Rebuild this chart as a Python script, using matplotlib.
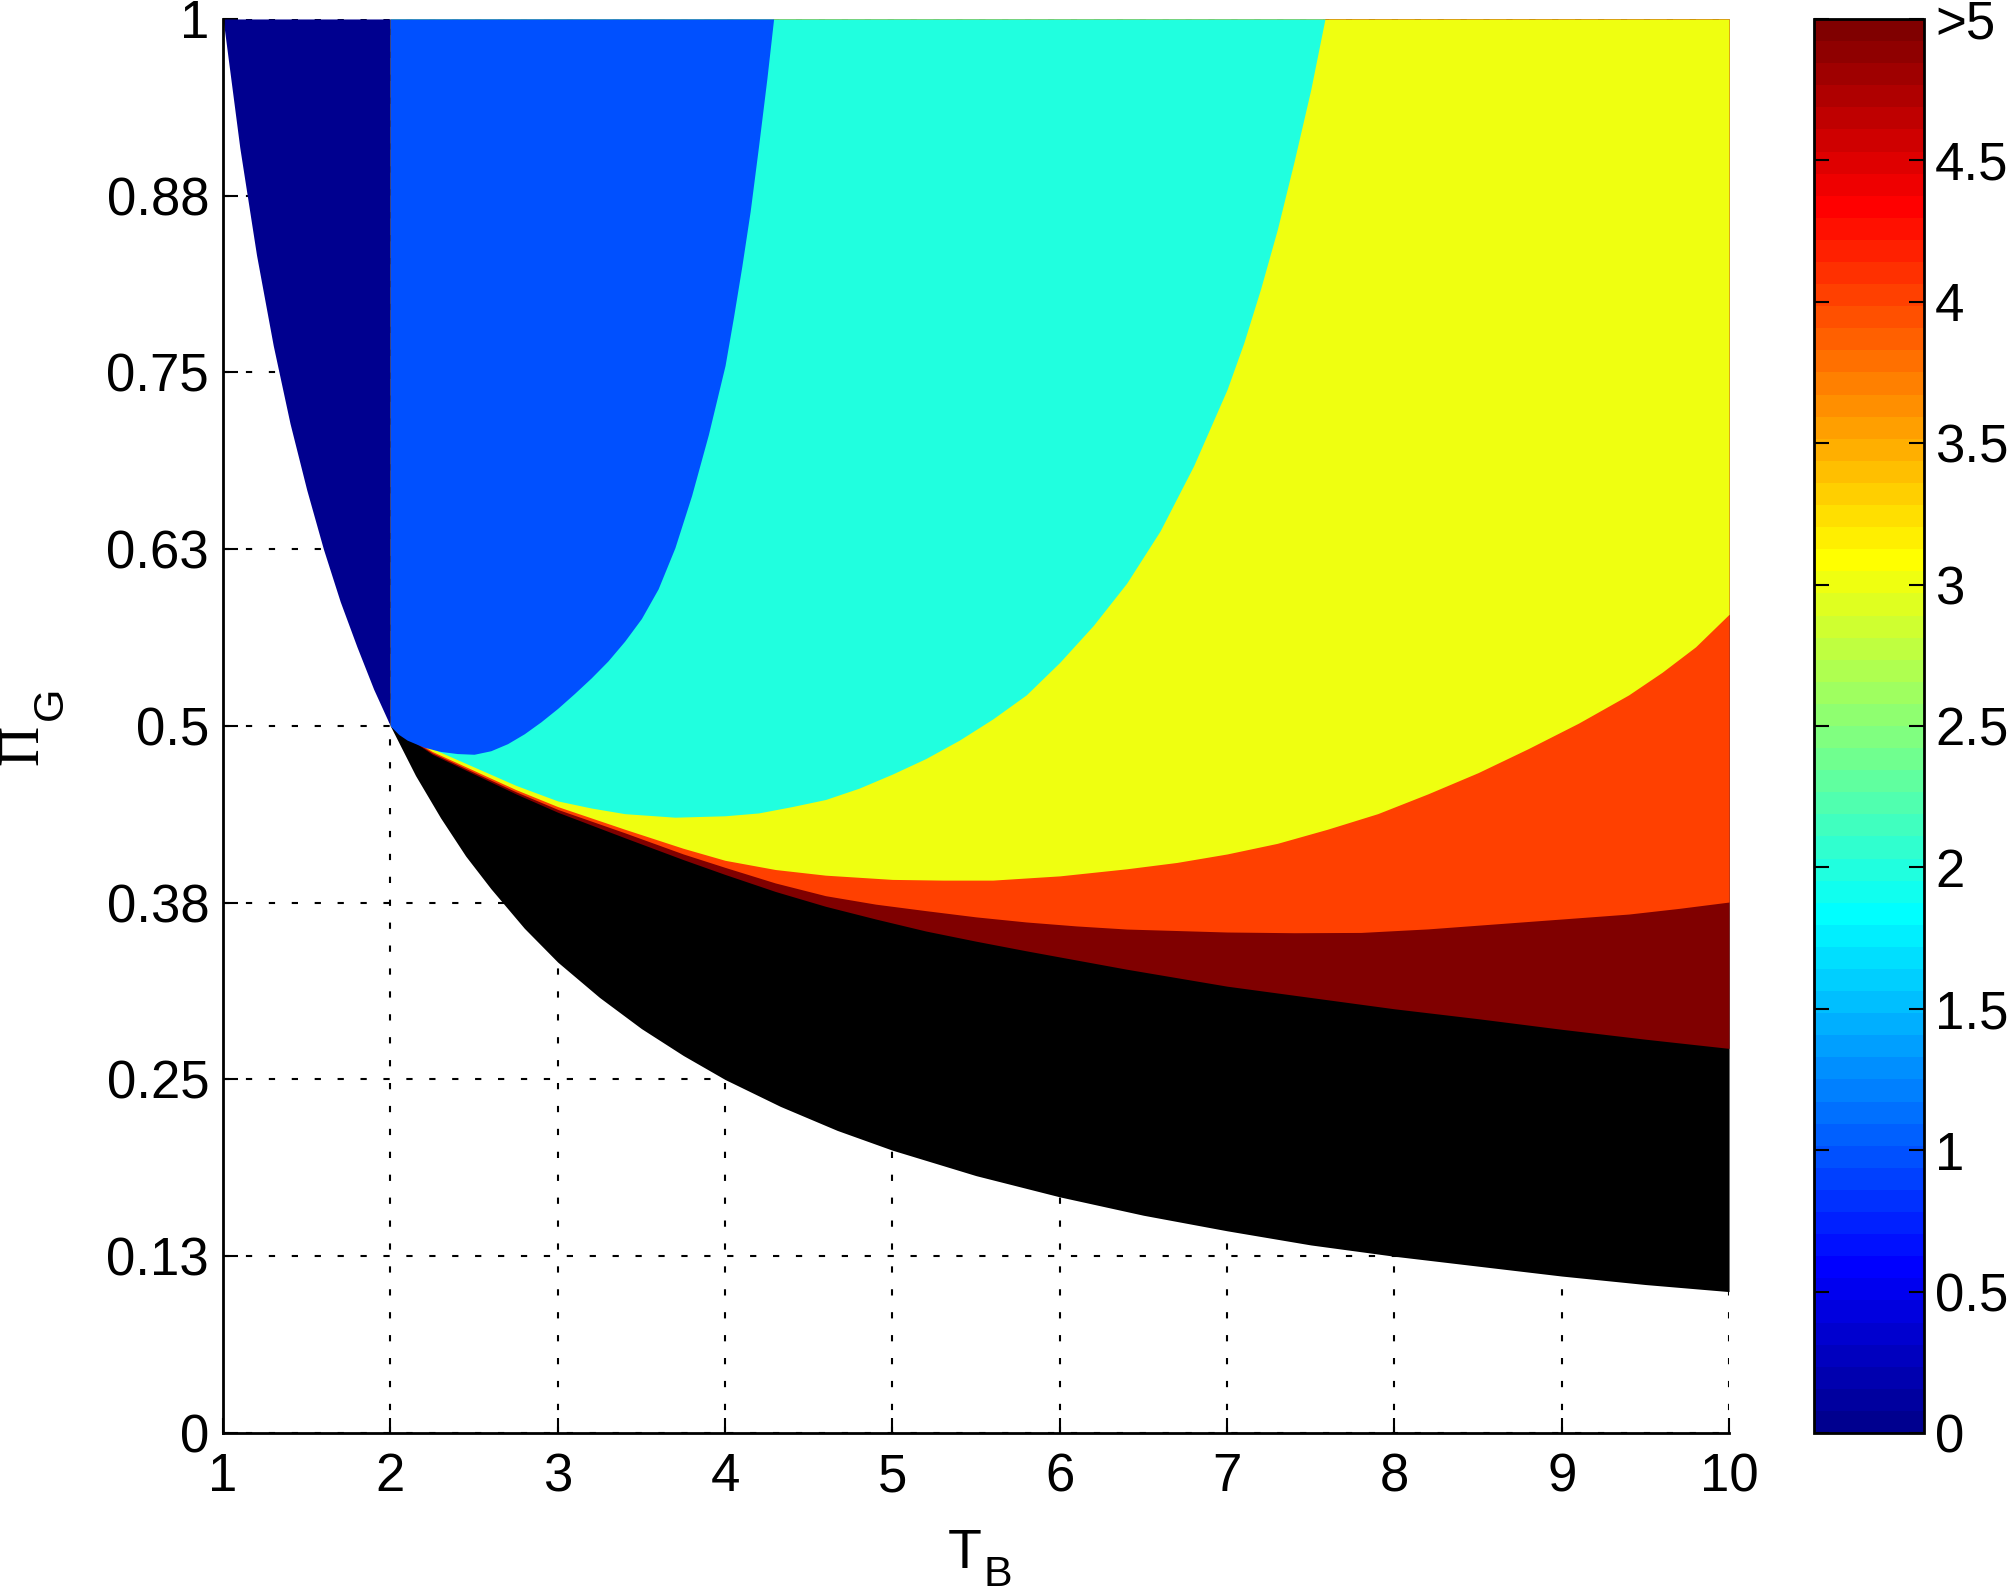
"""
Regions in the (T_B, Pi_G) plane, coloured by level on a MATLAB-style jet scale.
"""

import numpy as np
import matplotlib
matplotlib.use("Agg")
import matplotlib.pyplot as plt
from matplotlib.colors import ListedColormap, Normalize
from matplotlib.cm import ScalarMappable

# ---- data ------------------------------------------------------------------
# lower edge of the coloured area (white below it)
x_low = [1.0, 1.1, 1.2, 1.3, 1.4, 1.5, 1.6, 1.7, 1.8, 1.9, 2.0, 2.15, 2.3, 2.45,
         2.6, 2.8, 3.0, 3.25, 3.5, 3.75, 4.0, 4.33, 4.67, 5.0, 5.5, 6.0, 6.5,
         7.0, 7.5, 8.0, 8.5, 9.0, 9.5, 10.0]
y_low = [1.000, 0.909, 0.833, 0.769, 0.714, 0.667, 0.625, 0.588, 0.556, 0.526,
         0.500, 0.465, 0.435, 0.408, 0.385, 0.357, 0.333, 0.308, 0.286, 0.267,
         0.250, 0.231, 0.214, 0.200, 0.182, 0.167, 0.154, 0.143, 0.133, 0.125,
         0.118, 0.111, 0.105, 0.100]

# boundary level 1 / level 2 (blue above, cyan below)
x_b12 = [2.00, 2.05, 2.10, 2.20, 2.30, 2.40, 2.50, 2.60, 2.70, 2.80, 2.90, 3.00,
         3.10, 3.20, 3.30, 3.40, 3.50, 3.60, 3.70, 3.80, 3.90, 4.00, 4.05, 4.10,
         4.15, 4.20, 4.25, 4.29]
y_b12 = [0.500, 0.494, 0.490, 0.485, 0.482, 0.4805, 0.480, 0.4825, 0.4875, 0.4945,
         0.503, 0.5125, 0.523, 0.534, 0.546, 0.560, 0.576, 0.597, 0.626, 0.663,
         0.706, 0.755, 0.789, 0.825, 0.864, 0.910, 0.958, 1.000]

# boundary level 2 / level 3 (cyan above, yellow below)
x_b23 = [2.00, 2.25, 2.50, 2.75, 3.00, 3.20, 3.40, 3.70, 4.00, 4.20, 4.40, 4.60,
         4.80, 5.00, 5.20, 5.40, 5.60, 5.80, 6.00, 6.20, 6.40, 6.60, 6.80, 7.00,
         7.10, 7.20, 7.30, 7.40, 7.50, 7.585]
y_b23 = [0.500, 0.484, 0.471, 0.458, 0.447, 0.442, 0.438, 0.4355, 0.4365, 0.4385,
         0.443, 0.448, 0.456, 0.466, 0.477, 0.490, 0.505, 0.522, 0.545, 0.571,
         0.601, 0.638, 0.684, 0.738, 0.771, 0.809, 0.851, 0.899, 0.950, 1.000]

# boundary level 3 / level 4 (yellow above, orange below)
x_b34 = [2.00, 2.25, 2.50, 2.75, 3.00, 3.40, 3.75, 4.00, 4.30, 4.60, 5.00, 5.30,
         5.60, 6.00, 6.40, 6.70, 7.00, 7.30, 7.60, 7.90, 8.20, 8.50, 8.80, 9.10,
         9.40, 9.60, 9.80, 10.0]
y_b34 = [0.500, 0.482, 0.4685, 0.455, 0.443, 0.427, 0.4135, 0.405, 0.3985, 0.3945,
         0.3915, 0.391, 0.391, 0.394, 0.399, 0.4035, 0.4095, 0.417, 0.427, 0.438,
         0.452, 0.467, 0.484, 0.502, 0.522, 0.538, 0.556, 0.579]

# boundary level 4 / level >5 (orange above, dark red below)
x_b45 = [2.00, 2.25, 2.50, 2.75, 3.00, 3.40, 3.75, 4.00, 4.30, 4.60, 4.90, 5.20,
         5.50, 5.80, 6.10, 6.40, 7.00, 7.40, 7.80, 8.20, 8.60, 9.00, 9.40, 9.70,
         10.0]
y_b45 = [0.500, 0.481, 0.4672, 0.4535, 0.441, 0.4245, 0.4095, 0.400, 0.389, 0.380,
         0.374, 0.3694, 0.365, 0.3614, 0.3586, 0.3564, 0.3543, 0.3538, 0.354,
         0.3565, 0.360, 0.3635, 0.367, 0.371, 0.3755]

# boundary level >5 / infeasible (dark red above, black below)
x_b5n = [2.00, 2.25, 2.50, 2.75, 3.00, 3.40, 3.75, 4.00, 4.30, 4.60, 4.90, 5.20,
         5.50, 5.80, 6.10, 6.40, 7.00, 7.50, 8.00, 8.50, 9.00, 9.50, 10.0]
y_b5n = [0.500, 0.480, 0.466, 0.452, 0.439, 0.421, 0.4055, 0.395, 0.383, 0.3725,
         0.3635, 0.355, 0.3478, 0.341, 0.3345, 0.328, 0.316, 0.308, 0.300, 0.293,
         0.2855, 0.2785, 0.272]

levels = [0, 1, 2, 3, 4, 5]
x_ticks = [1, 2, 3, 4, 5, 6, 7, 8, 9, 10]
y_ticks = [0, 0.125, 0.25, 0.375, 0.5, 0.625, 0.75, 0.875, 1.0]
y_ticklabels = ["0", "0.13", "0.25", "0.38", "0.5", "0.63", "0.75", "0.88", "1"]
cb_ticks = [0, 0.5, 1, 1.5, 2, 2.5, 3, 3.5, 4, 4.5, 5]
cb_ticklabels = ["0", "0.5", "1", "1.5", "2", "2.5", "3", "3.5", "4", "4.5", ">5"]

# ---- style ------------------------------------------------------------------
plt.rcParams["font.family"] = ["Liberation Sans Narrow", "Liberation Sans", "DejaVu Sans"]

# MATLAB jet(64)
i = np.arange(1, 65)
jet64 = ListedColormap(np.column_stack([
    np.interp(i, [24, 40, 56, 64], [0, 1, 1, 0.5]),
    np.interp(i, [8, 24, 40, 56], [0, 1, 1, 0]),
    np.interp(i, [0, 8, 24, 40], [0.5, 1, 1, 0]),
]))
norm = Normalize(0, 5)
col = {v: jet64(norm(v)) for v in levels}

fig = plt.figure(figsize=(20.15, 15.94), dpi=100)
ax = fig.add_axes([0.1107, 0.1010, 0.7474, 0.8871])

xl = np.array(x_low)
yl = np.array(y_low)
fill_kw = dict(linewidth=0, zorder=2)

# paint from the bottom band upward, each band filled up to Pi_G = 1
ax.fill_between(xl[xl <= 2], yl[xl <= 2], 1, color=col[0], **fill_kw)
ax.fill_between(xl[xl >= 2], yl[xl >= 2], 1, color="black", **fill_kw)
ax.fill_between(x_b5n, y_b5n, 1, color=col[5], **fill_kw)
ax.fill_between(x_b45, y_b45, 1, color=col[4], **fill_kw)
ax.fill_between(x_b34, y_b34, 1, color=col[3], **fill_kw)
ax.fill_between(x_b23, y_b23, 1, color=col[2], **fill_kw)
ax.fill_between(x_b12, y_b12, 1, color=col[1], **fill_kw)

ax.set_xlim(1, 10)
ax.set_ylim(0, 1)
ax.set_xticks(x_ticks)
ax.set_yticks(y_ticks)
ax.set_yticklabels(y_ticklabels)
ax.grid(True, color="black", linestyle=(0, (3, 8)), linewidth=1.5, zorder=1)
ax.set_axisbelow(True)

for side in ["top", "right"]:
    ax.spines[side].set_visible(False)
for side in ["left", "bottom"]:
    ax.spines[side].set_linewidth(2)
    ax.spines[side].set_zorder(5)

ax.tick_params(direction="in", length=11, width=1.5, labelsize=38)
ax.tick_params(axis="x", pad=14)
ax.tick_params(axis="y", pad=10)

# axis labels: main letter plus a large, low subscript (MATLAB look)
ax.text(0.4814, -0.0955, "T", transform=ax.transAxes, fontsize=40,
        ha="left", va="baseline")
ax.text(0.505, -0.1085, "B", transform=ax.transAxes, fontsize=31,
        ha="left", va="baseline")
ax.text(-0.1235, 0.4724, "\u03a0", transform=ax.transAxes, fontsize=40,
        family="Liberation Serif", rotation=90, rotation_mode="anchor",
        ha="left", va="baseline")
ax.text(-0.1069, 0.5042, "G", transform=ax.transAxes, fontsize=31,
        rotation=90, rotation_mode="anchor", ha="left", va="baseline")

# colorbar
cax = fig.add_axes([0.9002, 0.1010, 0.0546, 0.8871])
sm = ScalarMappable(norm=norm, cmap=jet64)
cb = fig.colorbar(sm, cax=cax, ticks=cb_ticks)
cb.set_ticklabels(cb_ticklabels)
cb.outline.set_linewidth(2)
cax.tick_params(direction="in", left=True, right=True, length=11, width=1.5,
                labelsize=38, pad=8)

fig.savefig("out.png", dpi=100, facecolor="white")
